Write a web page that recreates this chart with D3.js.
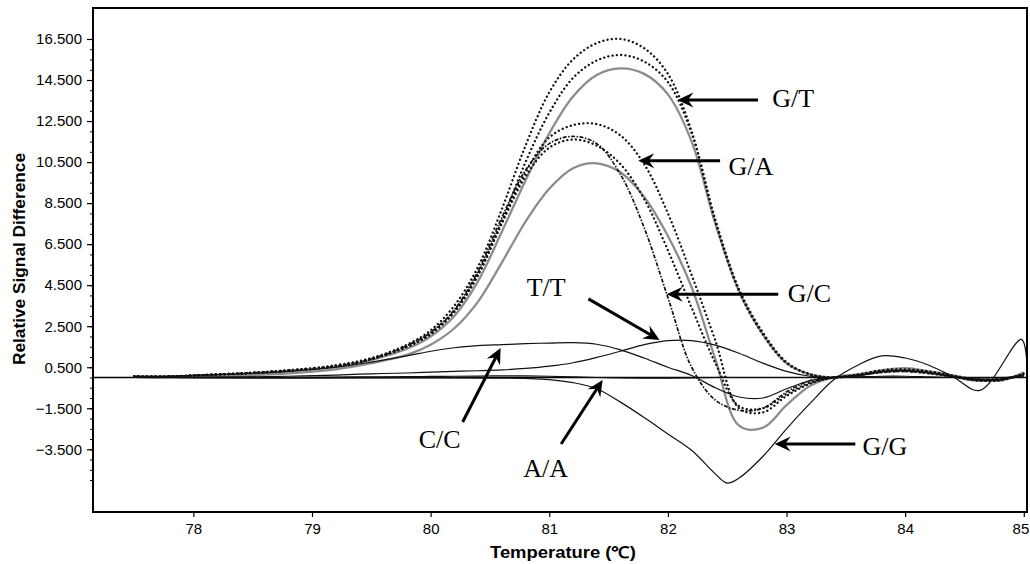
<!DOCTYPE html>
<html>
<head>
<meta charset="utf-8">
<script src="https://cdn.jsdelivr.net/npm/d3@7/dist/d3.min.js"></script>
<style>
  body { margin: 0; background: #fff; }
  svg { display: block; }
</style>
</head>
<body>
<svg id="chart" width="1030" height="564"></svg>
<script>
// Temperature grid (°C) shared by the melt-difference curves
const temps = [77.5, 77.8, 78.0, 78.4, 78.8, 79.2, 79.5, 79.8, 80.0, 80.2, 80.4, 80.6, 80.8,
  81.0, 81.2, 81.4, 81.6, 81.8, 82.0, 82.2, 82.4, 82.6, 82.8, 83.0, 83.2, 83.4, 83.6,
  83.8, 84.0, 84.2, 84.4, 84.6, 84.8, 85.0];

// G/T replicates
const gtDotA = [0.05, 0.05, 0.1, 0.2, 0.35, 0.6, 0.95, 1.6, 2.3, 3.5, 5.4, 8.2, 11.3,
  13.9, 15.5, 16.3, 16.5, 16.05, 14.8, 12.0, 7.6, 4.2, 2.1, 0.7, 0.15, 0.0, 0.15,
  0.35, 0.4, 0.3, 0.1, -0.1, -0.15, 0.2];
const gtDotB = [0.05, 0.05, 0.1, 0.18, 0.32, 0.55, 0.9, 1.5, 2.15, 3.2, 5.0, 7.6, 10.5,
  12.9, 14.6, 15.45, 15.72, 15.4, 14.4, 11.9, 7.7, 4.3, 2.2, 0.75, 0.15, 0.0, 0.1,
  0.3, 0.35, 0.25, 0.05, -0.12, -0.1, 0.15];
const gtGray = [0.05, 0.05, 0.08, 0.15, 0.3, 0.5, 0.85, 1.4, 2.0, 3.0, 4.7, 7.1, 9.6,
  11.9, 13.7, 14.75, 15.07, 14.8, 13.8, 11.5, 7.5, 4.2, 2.1, 0.7, 0.15, 0.0, 0.15,
  0.35, 0.45, 0.3, 0.1, -0.1, -0.15, 0.25];

// G/A replicates
const gaDotA = [0.05, 0.05, 0.1, 0.2, 0.35, 0.55, 0.9, 1.5, 2.15, 3.25, 5.1, 7.6, 10.0,
  11.7, 12.3, 12.35, 11.8, 10.4, 8.0, 5.0, 1.8, -1.5, -1.7, -0.9, -0.3, 0.0, 0.1,
  0.3, 0.35, 0.25, 0.05, -0.15, -0.1, 0.15];
const gaDotB = [0.05, 0.05, 0.1, 0.2, 0.33, 0.55, 0.9, 1.5, 2.1, 3.2, 5.0, 7.5, 9.8,
  11.2, 11.6, 11.3, 10.4, 8.7, 6.2, 3.4, 0.7, -1.4, -1.5, -0.8, -0.25, 0.0, 0.1,
  0.25, 0.3, 0.2, 0.05, -0.1, -0.1, 0.1];
const gaGray = [0.03, 0.03, 0.05, 0.1, 0.2, 0.4, 0.7, 1.1, 1.6, 2.4, 3.7, 5.6, 7.6,
  9.2, 10.2, 10.44, 10.0, 8.8, 6.9, 4.4, 0.9, -2.35, -2.45, -1.35, -0.4, 0.0, 0.15,
  0.3, 0.35, 0.25, 0.05, -0.15, -0.1, 0.15];

// G/C
const gcDash = [0.05, 0.05, 0.1, 0.2, 0.35, 0.55, 0.9, 1.55, 2.2, 3.3, 5.2, 7.8, 10.1,
  11.4, 11.75, 11.4, 9.9, 7.3, 3.9, 0.5, -1.1, -1.6, -1.5, -0.7, -0.15, 0.0, 0.1,
  0.25, 0.3, 0.2, 0.05, -0.1, -0.05, 0.1];

// Homozygous profiles
const ccValues = [0.03, 0.05, 0.1, 0.18, 0.3, 0.5, 0.75, 1.05, 1.28, 1.45, 1.55, 1.6, 1.65,
  1.68, 1.7, 1.62, 1.35, 0.95, 0.5, 0.1, -0.5, -0.95, -1.0, -0.55, -0.15, 0.0, 0.02,
  0.02, 0.0, 0.0, 0.0, 0.0, 0.0, 0.0];
const ttValues = [0.0, 0.0, 0.02, 0.03, 0.06, 0.12, 0.18, 0.22, 0.26, 0.3, 0.33, 0.37, 0.44,
  0.55, 0.72, 0.98, 1.28, 1.6, 1.8, 1.8, 1.58, 1.18, 0.7, 0.3, 0.06, 0.0, 0.03,
  0.06, 0.06, 0.03, 0.0, -0.03, 0.0, 0.03];
const aaValues = [0.0, 0.0, 0.0, 0.0, 0.0, 0.02, 0.03, 0.04, 0.05, 0.06, 0.07, 0.08, 0.08,
  0.06, 0.03, 0.0, -0.02, -0.03, -0.03, -0.02, 0.0, 0.0, 0.0, 0.0, 0.0, 0.0, 0.0,
  0.0, 0.0, 0.0, 0.0, 0.0, 0.0, 0.0];

// G/G (own temperature grid)
const ggTemps = [77.5, 78.0, 78.5, 79.0, 79.5, 80.0, 80.5, 80.8, 81.0, 81.2, 81.4, 81.6,
  81.8, 82.0, 82.2, 82.4, 82.5, 82.6, 82.8, 83.0, 83.2, 83.4, 83.6, 83.8, 84.0, 84.2,
  84.4, 84.63, 84.98, 85.03];
const ggValues = [0.0, -0.02, -0.03, -0.03, -0.02, -0.02, -0.03, -0.05, -0.1, -0.25, -0.55,
  -1.2, -1.95, -2.75, -3.55, -4.7, -5.15, -4.9, -3.85, -2.5, -1.25, -0.1, 0.6, 1.05,
  0.95, 0.6, 0.05, -0.63, 1.86, 0.3];

// Axis ticks
const xTicks = [78, 79, 80, 81, 82, 83, 84, 85];
const yLabelTicks = [16.5, 14.5, 12.5, 10.5, 8.5, 6.5, 4.5, 2.5, 0.5, -1.5, -3.5];
const yMinorTicks = d3.range(-5, 16.51, 0.5);

// Callouts: label, arrow tail (t, v), arrow tip (t, v), label anchor (t, v)
const callouts = [
  { label: "G/T", tail: [82.76, 13.53], tip: [82.08, 13.53], at: [82.88, 13.19] },
  { label: "G/A", tail: [82.44, 10.57], tip: [81.75, 10.57], at: [82.51, 9.87] },
  { label: "G/C", tail: [82.93, 4.06], tip: [81.99, 4.06], at: [83.01, 3.70] },
  { label: "T/T", tail: [81.33, 3.83], tip: [81.93, 1.83], at: [80.81, 3.97] },
  { label: "C/C", tail: [80.27, -2.17], tip: [80.59, 1.44], at: [79.90, -3.44] },
  { label: "A/A", tail: [81.10, -3.24], tip: [81.45, -0.12], at: [80.78, -4.85] },
  { label: "G/G", tail: [83.58, -3.24], tip: [82.90, -3.24], at: [83.64, -3.78] }
];

const plot = { left: 93, top: 8, right: 1027, bottom: 512 };
const x = d3.scaleLinear().domain([77.154, 85.027]).range([plot.left, plot.right]);
const y = d3.scaleLinear().domain([-6.556, 18.01]).range([plot.bottom, plot.top]);

const svg = d3.select("#chart");
const sans = "'Liberation Sans', Arial, Helvetica, sans-serif";
const serif = "'Liberation Serif', 'Times New Roman', Times, serif";

svg.append("rect").attr("width", 1030).attr("height", 564).attr("fill", "#fff");

const defs = svg.append("defs");
defs.append("clipPath").attr("id", "plotClip")
  .append("rect")
  .attr("x", plot.left).attr("y", plot.top)
  .attr("width", plot.right - plot.left).attr("height", plot.bottom - plot.top);

// Arrowhead marker
defs.append("marker")
  .attr("id", "head")
  .attr("viewBox", "-17 -9 18 18")
  .attr("refX", 0).attr("refY", 0)
  .attr("markerWidth", 18).attr("markerHeight", 18)
  .attr("markerUnits", "userSpaceOnUse")
  .attr("orient", "auto")
  .append("path")
  .attr("d", "M0,0 L-16,-7.5 L-10.5,0 L-16,7.5 Z")
  .attr("fill", "#000");

// Y axis: minor ticks and labelled ticks
svg.append("g")
  .attr("transform", `translate(${plot.left},0)`)
  .call(d3.axisLeft(y).tickValues(yMinorTicks).tickSize(3).tickFormat(""))
  .call(g => g.select(".domain").remove())
  .call(g => g.selectAll("line").attr("stroke", "#000").attr("stroke-width", 1));

const yAxis = svg.append("g")
  .attr("transform", `translate(${plot.left},0)`)
  .call(d3.axisLeft(y).tickValues(yLabelTicks).tickSize(6).tickPadding(5)
    .tickFormat(d3.format(".3f")));
yAxis.select(".domain").remove();
yAxis.selectAll("line").attr("stroke", "#000").attr("stroke-width", 1.2);
yAxis.selectAll("text").attr("font-family", sans).attr("font-size", 15).attr("fill", "#000");

// X axis
const xAxis = svg.append("g")
  .attr("transform", `translate(0,${plot.bottom})`)
  .call(d3.axisBottom(x).tickValues(xTicks).tickSize(5).tickPadding(6).tickFormat(d3.format("d")));
xAxis.select(".domain").remove();
xAxis.selectAll("line").attr("stroke", "#000").attr("stroke-width", 1.2);
xAxis.selectAll("text").attr("font-family", sans).attr("font-size", 15).attr("fill", "#000");
// keep the last label inside the page edge
xAxis.selectAll(".tick").filter(d => d === 85).select("text")
  .attr("text-anchor", "end").attr("dx", 5);

// Axis titles
svg.append("text")
  .attr("x", (plot.left + plot.right) / 2 + 3).attr("y", 558)
  .attr("text-anchor", "middle")
  .attr("font-family", sans).attr("font-weight", "bold").attr("font-size", 16)
  .attr("textLength", 146).attr("lengthAdjust", "spacingAndGlyphs")
  .text("Temperature (\u2103)");

svg.append("text")
  .attr("transform", "translate(25,259) rotate(-90)")
  .attr("text-anchor", "middle")
  .attr("font-family", sans).attr("font-weight", "bold").attr("font-size", 16)
  .attr("textLength", 212).attr("lengthAdjust", "spacingAndGlyphs")
  .text("Relative Signal Difference");

// Curves
const plotArea = svg.append("g").attr("clip-path", "url(#plotClip)");

// zero reference line
plotArea.append("line")
  .attr("x1", plot.left).attr("x2", plot.right)
  .attr("y1", y(0)).attr("y2", y(0))
  .attr("stroke", "#000").attr("stroke-width", 1.3);

const line = d3.line()
  .x(d => x(d[0])).y(d => y(d[1]))
  .curve(d3.curveCatmullRom.alpha(0.5));

const styles = {
  gray:  { stroke: "#8c8c8c", width: 2.3, dash: null, cap: "butt" },
  dot:   { stroke: "#111", width: 2.3, dash: "0.1 4.2", cap: "round" },
  dash:  { stroke: "#111", width: 1.7, dash: "4 1.5 1.5 1.5", cap: "butt" },
  thin:  { stroke: "#111", width: 1.2, dash: null, cap: "butt" }
};

const curves = [
  { t: temps, v: gtGray, s: "gray" },
  { t: temps, v: gaGray, s: "gray" },
  { t: temps, v: aaValues, s: "thin" },
  { t: temps, v: ccValues, s: "thin" },
  { t: temps, v: ttValues, s: "thin" },
  { t: ggTemps, v: ggValues, s: "thin" },
  { t: temps, v: gcDash, s: "dash" },
  { t: temps, v: gaDotA, s: "dot" },
  { t: temps, v: gaDotB, s: "dot" },
  { t: temps, v: gtDotA, s: "dot" },
  { t: temps, v: gtDotB, s: "dot" }
];

curves.forEach(c => {
  const st = styles[c.s];
  plotArea.append("path")
    .datum(c.t.map((t, i) => [t, c.v[i]]))
    .attr("d", line)
    .attr("fill", "none")
    .attr("stroke", st.stroke)
    .attr("stroke-width", st.width)
    .attr("stroke-linecap", st.cap)
    .attr("stroke-linejoin", "round")
    .attr("stroke-dasharray", st.dash);
});

// Frame
svg.append("rect")
  .attr("x", plot.left).attr("y", plot.top)
  .attr("width", plot.right - plot.left).attr("height", plot.bottom - plot.top)
  .attr("fill", "none").attr("stroke", "#000").attr("stroke-width", 2);

// Callout arrows and labels
const notes = svg.append("g");
callouts.forEach(c => {
  const x1 = x(c.tail[0]), y1 = y(c.tail[1]);
  const x2 = x(c.tip[0]), y2 = y(c.tip[1]);
  const len = Math.hypot(x2 - x1, y2 - y1);
  const k = (len - 9) / len;
  notes.append("line")
    .attr("x1", x1).attr("y1", y1)
    .attr("x2", x1 + (x2 - x1) * k).attr("y2", y1 + (y2 - y1) * k)
    .attr("stroke", "#000").attr("stroke-width", 3);
  notes.append("line")
    .attr("x1", x1 + (x2 - x1) * k).attr("y1", y1 + (y2 - y1) * k)
    .attr("x2", x2).attr("y2", y2)
    .attr("stroke", "none").attr("stroke-width", 0.01)
    .attr("marker-end", "url(#head)");
  notes.append("text")
    .attr("x", x(c.at[0])).attr("y", y(c.at[1]))
    .attr("font-family", serif).attr("font-size", 26).attr("fill", "#000")
    .text(c.label);
});
</script>
</body>
</html>
